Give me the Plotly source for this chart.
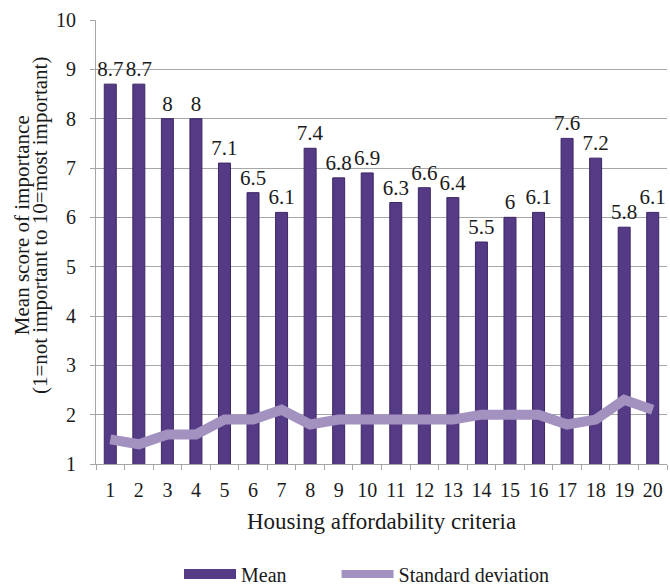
import plotly.graph_objects as go

criteria = [str(i) for i in range(1, 21)]
mean_scores = [8.7, 8.7, 8, 8, 7.1, 6.5, 6.1, 7.4, 6.8, 6.9, 6.3, 6.6, 6.4, 5.5, 6, 6.1, 7.6, 7.2, 5.8, 6.1]
std_dev = [1.5, 1.4, 1.6, 1.6, 1.9, 1.9, 2.1, 1.8, 1.9, 1.9, 1.9, 1.9, 1.9, 2.0, 2.0, 2.0, 1.8, 1.9, 2.3, 2.1]
y_ticks = [1, 2, 3, 4, 5, 6, 7, 8, 9, 10]

FONT = "Liberation Serif, Times New Roman, serif"
BAR = "#553a86"
LINE = "#a392c0"
GRID = "#a6a6a6"
TXT = "#1a1a1a"

fig = go.Figure()
fig.add_trace(go.Bar(
    x=criteria, y=mean_scores, name="Mean", showlegend=False,
    marker=dict(color=BAR, line=dict(color="#3c2763", width=1)),
    text=[f"{v:g}" for v in mean_scores], textposition="outside",
    constraintext="none",
    textfont=dict(family=FONT, size=21, color=TXT),
    cliponaxis=False,
))
fig.add_trace(go.Scatter(
    x=criteria, y=std_dev, mode="lines", name="Standard deviation",
    line=dict(color=LINE, width=10), showlegend=False,
))
# legend entries
fig.add_trace(go.Scatter(x=[None], y=[None], mode="lines",
                         name="Mean" + "\u00a0" * 9,
                         line=dict(color=BAR, width=10)))
fig.add_trace(go.Scatter(x=[None], y=[None], mode="lines", name="Standard deviation",
                         line=dict(color=LINE, width=8)))

fig.update_layout(
    width=670, height=585,
    margin=dict(l=96, r=3, t=20, b=121, autoexpand=False),
    paper_bgcolor="white", plot_bgcolor="white",
    font=dict(family=FONT, size=20, color=TXT),
    bargap=0.58,
    showlegend=True,
    legend=dict(orientation="h", x=0.4746, xanchor="center", y=-0.2477, yanchor="middle",
                font=dict(family=FONT, size=20, color=TXT), itemwidth=52,
                bgcolor="rgba(0,0,0,0)"),
    xaxis=dict(type="category", tickson="boundaries", ticks="outside", ticklen=5,
               tickcolor=GRID, showline=True, linecolor=GRID, linewidth=1,
               showgrid=False, tickfont=dict(family=FONT, size=20, color=TXT),
               tickangle=0, ticklabelstandoff=8, range=[-0.5, 19.5]),
    yaxis=dict(range=[1, 10], tickvals=y_ticks, ticks="outside", ticklen=5,
               tickcolor=GRID, showline=True, linecolor=GRID, linewidth=1,
               showgrid=True, gridcolor=GRID, gridwidth=1, zeroline=False,
               tickfont=dict(family=FONT, size=20, color=TXT), ticklabelstandoff=10),
    annotations=[
        dict(text="Housing affordability criteria", xref="paper", yref="paper",
             x=0.5, y=-0.1306, xanchor="center", yanchor="middle", showarrow=False,
             font=dict(family=FONT, size=23, color=TXT)),
        dict(text="Mean score of importance", xref="paper", yref="paper",
             x=-0.1296, y=0.538, xanchor="center", yanchor="middle", showarrow=False,
             textangle=-90, font=dict(family=FONT, size=21, color=TXT)),
        dict(text="(1=not important to 10=most important)", xref="paper", yref="paper",
             x=-0.0981, y=0.538, xanchor="center", yanchor="middle", showarrow=False,
             textangle=-90, font=dict(family=FONT, size=21, color=TXT)),
    ],
)

fig.write_html("out.html", config={"displayModeBar": False},
               post_script="document.body.style.margin='0';")
